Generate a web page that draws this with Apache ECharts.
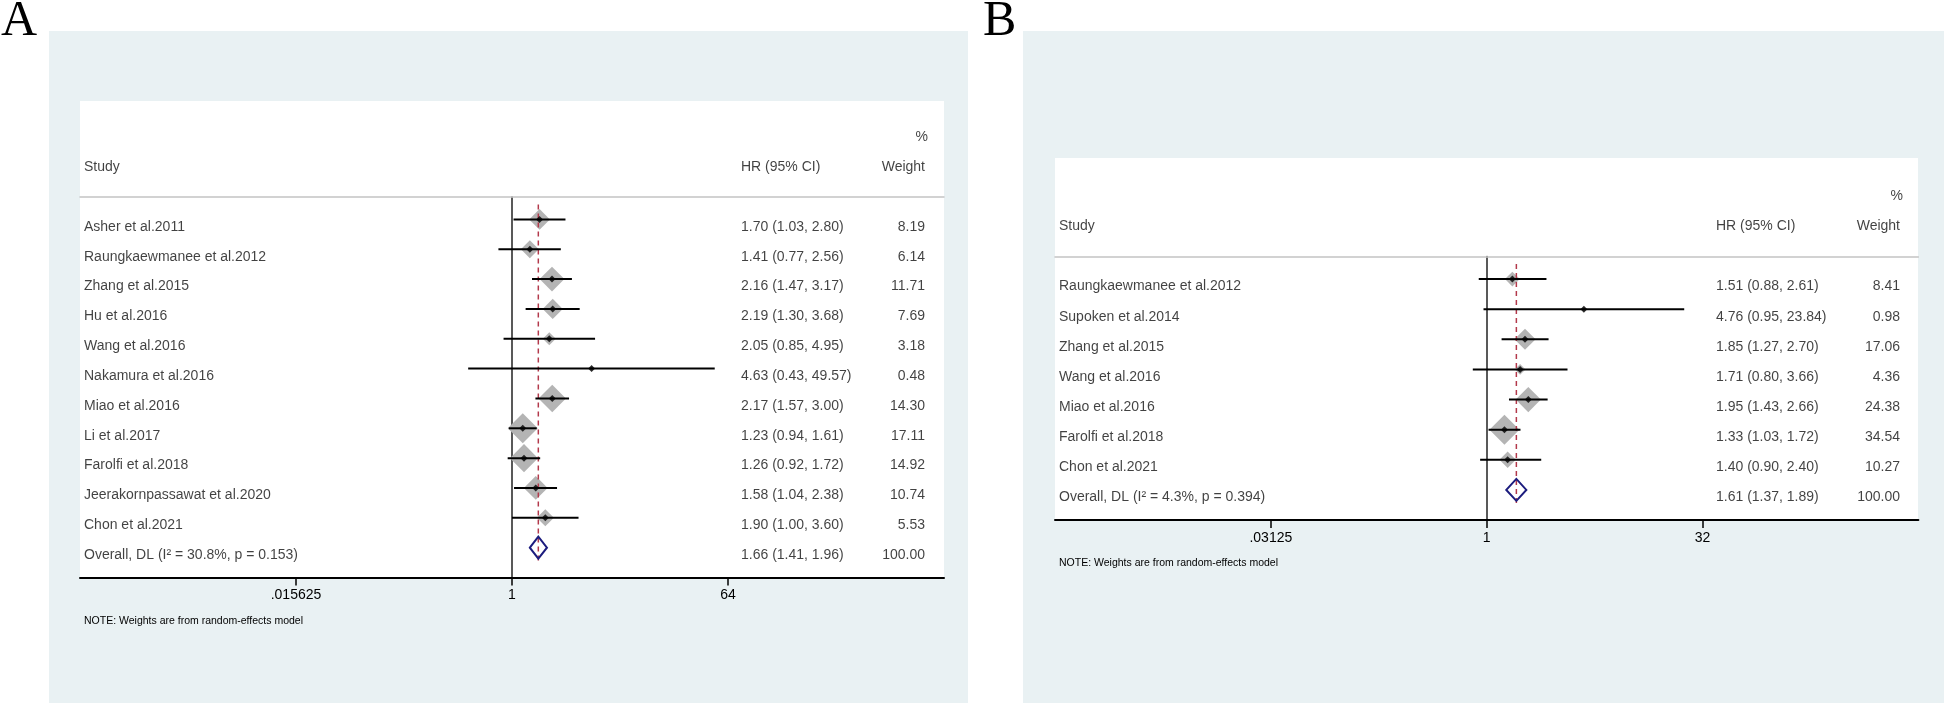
<!DOCTYPE html>
<html><head><meta charset="utf-8">
<script src="https://cdn.jsdelivr.net/npm/echarts@6/dist/echarts.min.js"></script>
<style>html,body{margin:0;padding:0;background:#fff}#c{width:1944px;height:703px}</style>
</head><body><div id="c"></div>
<script>
// ---------- Panel A data ----------
const studiesA = ['Asher et al.2011','Raungkaewmanee et al.2012','Zhang et al.2015','Hu et al.2016','Wang et al.2016','Nakamura et al.2016','Miao et al.2016','Li et al.2017','Farolfi et al.2018','Jeerakornpassawat et al.2020','Chon et al.2021'];
const hrA = [1.70, 1.41, 2.16, 2.19, 2.05, 4.63, 2.17, 1.23, 1.26, 1.58, 1.90];
const loA = [1.03, 0.77, 1.47, 1.30, 0.85, 0.43, 1.57, 0.94, 0.92, 1.04, 1.00];
const hiA = [2.80, 2.56, 3.17, 3.68, 4.95, 49.57, 3.00, 1.61, 1.72, 2.38, 3.60];
const weightA = [8.19, 6.14, 11.71, 7.69, 3.18, 0.48, 14.30, 17.11, 14.92, 10.74, 5.53];
const overallA = [1.66, 1.41, 1.96];
const overallLabelA = 'Overall, DL (I² = 30.8%, p = 0.153)';
const tickValuesA = [0.015625, 1, 64];
const tickLabelsA = ['.015625', '1', '64'];

// ---------- Panel B data ----------
const studiesB = ['Raungkaewmanee et al.2012','Supoken et al.2014','Zhang et al.2015','Wang et al.2016','Miao et al.2016','Farolfi et al.2018','Chon et al.2021'];
const hrB = [1.51, 4.76, 1.85, 1.71, 1.95, 1.33, 1.40];
const loB = [0.88, 0.95, 1.27, 0.80, 1.43, 1.03, 0.90];
const hiB = [2.61, 23.84, 2.70, 3.66, 2.66, 1.72, 2.40];
const weightB = [8.41, 0.98, 17.06, 4.36, 24.38, 34.54, 10.27];
const overallB = [1.61, 1.37, 1.89];
const overallLabelB = 'Overall, DL (I² = 4.3%, p = 0.394)';
const tickValuesB = [0.03125, 1, 32];
const tickLabelsB = ['.03125', '1', '32'];

const FONT = '"Liberation Sans", Arial, sans-serif';
const BG = '#e9f1f3';

const option = {
  animation: false,
  backgroundColor: '#ffffff',
  grid: [], xAxis: [], yAxis: [], series: [],
  graphic: [
    {type:'rect', z:-10, shape:{x:49, y:31, width:919, height:672}, style:{fill:BG}},
    {type:'rect', z:-9, shape:{x:80, y:101, width:864, height:477}, style:{fill:'#fff'}},
    {type:'rect', z:-10, shape:{x:1023, y:31, width:921, height:672}, style:{fill:BG}},
    {type:'rect', z:-9, shape:{x:1055, y:158, width:863, height:362}, style:{fill:'#fff'}},
    {type:'text', x:1, y:22, style:{text:'A', fontSize:50, fontFamily:'"Liberation Serif", "Times New Roman", serif', fill:'#000', verticalAlign:'middle'}},
    {type:'text', x:983, y:22, style:{text:'B', fontSize:50, fontFamily:'"Liberation Serif", "Times New Roman", serif', fill:'#000', verticalAlign:'middle'}},
    {type:'text', x:84, y:621, style:{text:'NOTE: Weights are from random-effects model', fontSize:10.5, fontFamily:FONT, fill:'#000', verticalAlign:'middle'}},
    {type:'text', x:1059, y:563, style:{text:'NOTE: Weights are from random-effects model', fontSize:10.5, fontFamily:FONT, fill:'#000', verticalAlign:'middle'}}
  ]
};

function addPanel(gi, p, lay) {
  const n = p.studies.length + 1;
  const maxW = Math.max.apply(null, p.weights);
  const xMin = -lay.span, xMax = lay.span;
  const bx = option.xAxis.length, tx = bx + 1;
  const tickLog = p.ticks.map(Math.log2);
  option.grid.push({left: lay.left, top: lay.top, width: lay.width, height: lay.height});
  option.xAxis.push({
    gridIndex: gi, type: 'value', min: xMin, max: xMax, position: 'bottom',
    axisLine: {onZero: false, lineStyle: {color: '#000', width: 2}},
    axisTick: {show: true, customValues: tickLog, length: 8, lineStyle: {color: '#000', width: 1.5}},
    axisLabel: {show: true, customValues: tickLog, margin: 11, fontSize: 14, color: '#000', fontFamily: FONT,
      formatter: function (v) {
        const i = tickLog.findIndex(t => Math.abs(t - v) < 1e-6);
        return i >= 0 ? p.tickLabels[i] : '';
      }},
    splitLine: {show: false}
  });
  option.xAxis.push({
    gridIndex: gi, type: 'value', min: xMin, max: xMax, position: 'top',
    axisLine: {onZero: false, lineStyle: {color: '#c4c4c4', width: 1.5}},
    axisTick: {show: false}, axisLabel: {show: false}, splitLine: {show: false}
  });
  option.yAxis.push({
    gridIndex: gi, type: 'value', inverse: true, min: -0.75, max: n,
    axisLine: {show: true, onZero: true, lineStyle: {color: '#222', width: 1.5}},
    axisTick: {show: false}, axisLabel: {show: false}, splitLine: {show: false}
  });
  const L = Math.log2;
  // weight boxes
  option.series.push({
    type: 'scatter', xAxisIndex: bx, yAxisIndex: gi, z: 2, silent: true, clip: false,
    symbol: 'diamond',
    itemStyle: {color: '#b4b4b4', opacity: 1},
    data: p.studies.map((s, i) => ({value: [L(p.hr[i]), i], symbolSize: 30 * Math.sqrt(p.weights[i] / maxW)}))
  });
  // overall dashed line
  option.series.push({
    type: 'line', xAxisIndex: bx, yAxisIndex: gi, z: 3, silent: true, symbol: 'none',
    lineStyle: {color: '#b3394b', width: 1.5, type: [5, 4]},
    data: [[L(p.overall[0]), -0.5], [L(p.overall[0]), n - 0.5]]
  });
  // CI lines
  option.series.push({
    type: 'custom', xAxisIndex: bx, yAxisIndex: gi, z: 4, silent: true,
    data: p.studies.map((s, i) => [L(p.lo[i]), L(p.hi[i]), i]),
    encode: {x: [0, 1], y: 2},
    renderItem: function (params, api) {
      const a = api.coord([api.value(0), api.value(2)]);
      const b = api.coord([api.value(1), api.value(2)]);
      return {type: 'line', shape: {x1: a[0], y1: a[1], x2: b[0], y2: b[1]}, style: {stroke: '#000', lineWidth: 2}};
    }
  });
  // point estimates
  option.series.push({
    type: 'scatter', xAxisIndex: bx, yAxisIndex: gi, z: 5, silent: true, clip: false,
    symbol: 'diamond', symbolSize: 7, itemStyle: {color: '#000'},
    data: p.studies.map((s, i) => [L(p.hr[i]), i])
  });
  // overall diamond
  option.series.push({
    type: 'custom', xAxisIndex: bx, yAxisIndex: gi, z: 6, silent: true,
    data: [[L(p.overall[1]), L(p.overall[0]), L(p.overall[2]), n - 1]],
    encode: {x: [0, 1, 2], y: 3},
    renderItem: function (params, api) {
      const y = api.value(3);
      const l = api.coord([api.value(0), y]);
      const c = api.coord([api.value(1), y]);
      const r = api.coord([api.value(2), y]);
      const h = 11;
      return {type: 'polygon', shape: {points: [[l[0], l[1]], [c[0], c[1] - h], [r[0], r[1]], [c[0], c[1] + h]]},
        style: {fill: 'none', stroke: '#1c1c7e', lineWidth: 2}};
    }
  });
  // text columns
  const textSeries = (items, align, dx) => ({
    type: 'scatter', xAxisIndex: bx, yAxisIndex: gi, z: 7, silent: true, clip: false,
    symbolSize: 1, itemStyle: {color: 'rgba(0,0,0,0)'},
    label: {show: true, position: 'inside', align: align, verticalAlign: 'middle', offset: [dx, 7.5],
      formatter: '{b}', fontSize: 14, color: '#111', fontFamily: FONT},
    data: items
  });
  const studyItems = [{name: 'Study', value: [xMin, -2]}]
    .concat(p.studies.map((s, i) => ({name: s, value: [xMin, i]})))
    .concat([{name: p.overallLabel, value: [xMin, n - 1]}]);
  const f2 = v => v.toFixed(2);
  const hrItems = [{name: 'HR (95% CI)', value: [xMin, -2]}]
    .concat(p.studies.map((s, i) => ({name: f2(p.hr[i]) + ' (' + f2(p.lo[i]) + ', ' + f2(p.hi[i]) + ')', value: [xMin, i]})))
    .concat([{name: f2(p.overall[0]) + ' (' + f2(p.overall[1]) + ', ' + f2(p.overall[2]) + ')', value: [xMin, n - 1]}]);
  const wItems = [{name: '%', value: [xMin, -3], label: {offset: [848, 7.5]}}, {name: 'Weight', value: [xMin, -2]}]
    .concat(p.weights.map((w, i) => ({name: f2(w), value: [xMin, i]})))
    .concat([{name: '100.00', value: [xMin, n - 1]}]);
  option.series.push(textSeries(studyItems, 'left', 4));
  option.series.push(textSeries(hrItems, 'left', 661));
  option.series.push(textSeries(wItems, 'right', 845));
}

addPanel(0, {studies: studiesA, hr: hrA, lo: loA, hi: hiA, weights: weightA, overall: overallA,
  overallLabel: overallLabelA, ticks: tickValuesA, tickLabels: tickLabelsA},
  {left: 80, top: 197, width: 864, height: 380.5, span: 12});
addPanel(1, {studies: studiesB, hr: hrB, lo: loB, hi: hiB, weights: weightB, overall: overallB,
  overallLabel: overallLabelB, ticks: tickValuesB, tickLabels: tickLabelsB},
  {left: 1055, top: 256.5, width: 863.4, height: 263.5, span: 10});

const chart = echarts.init(document.getElementById('c'), null, {renderer: 'canvas'});
chart.setOption(option);
</script></body></html>
